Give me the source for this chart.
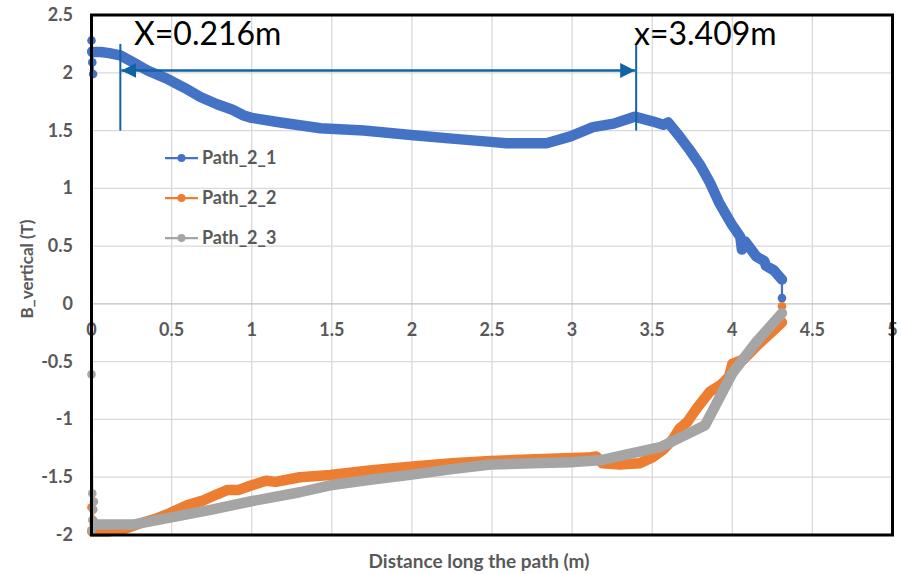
<!DOCTYPE html>
<html lang="en">
  <head>
    <meta charset="UTF-8" />
    <script src="https://d3js.org/d3.v7.min.js"></script>
    <title>B_vertical along path</title>
    <style>
      body {
        margin: 0;
        background: #fff;
      }
      .tick-label {
        font-family: Lato, sans-serif;
        font-weight: bold;
        font-size: 18px;
        fill: #595959;
      }
      .note {
        font-family: Lato, sans-serif;
        font-size: 32px;
        fill: #000;
      }
    </style>
  </head>
  <body>
    <script>
      var width = 901
      var height = 574

      // 数据
      var seriesNames = ['Path_2_1', 'Path_2_2', 'Path_2_3']
      var seriesColors = ['#4472C4', '#ED7D31', '#A5A5A5']

      var xTicks = [0, 0.5, 1, 1.5, 2, 2.5, 3, 3.5, 4, 4.5, 5]
      var yTicks = [2.5, 2, 1.5, 1, 0.5, 0, -0.5, -1, -1.5, -2]

      // Path_2_1
      var path21Head = [[0.0, 2.28], [0.0, 2.19], [0.005, 2.09], [0.01, 1.99]]
      var path21Body = [
        [0.005, 2.18], [0.06, 2.18], [0.11, 2.17], [0.18, 2.15], [0.26, 2.09],
        [0.35, 2.02], [0.47, 1.95], [0.58, 1.87], [0.68, 1.79], [0.78, 1.73],
        [0.88, 1.68], [0.95, 1.63], [1.0, 1.61], [1.18, 1.57], [1.43, 1.52],
        [1.7, 1.5], [2.01, 1.46], [2.25, 1.43], [2.51, 1.4], [2.59, 1.39],
        [2.84, 1.39], [2.99, 1.45], [3.13, 1.53], [3.26, 1.56], [3.39, 1.62],
        [3.5, 1.58], [3.57, 1.55], [3.6, 1.57], [3.67, 1.45], [3.73, 1.34],
        [3.8, 1.2], [3.86, 1.05], [3.92, 0.87], [4.0, 0.68], [4.05, 0.58],
        [4.06, 0.47], [4.08, 0.54], [4.15, 0.41], [4.2, 0.37], [4.21, 0.33],
        [4.26, 0.29], [4.31, 0.21]
      ]
      var path21Tail = [[4.31, 0.05]]

      // Path_2_2
      var path22Head = [[0.0, -1.76], [0.01, -1.78], [0.01, -1.87], [0.0, -1.96]]
      var path22Body = [
        [0.005, -1.97], [0.1, -1.97], [0.2, -1.95], [0.3, -1.9], [0.4, -1.86],
        [0.49, -1.81], [0.6, -1.74], [0.7, -1.7], [0.78, -1.65], [0.85, -1.61],
        [0.92, -1.61], [1.0, -1.57], [1.09, -1.53], [1.15, -1.54], [1.3, -1.5],
        [1.49, -1.48], [1.75, -1.44], [1.99, -1.41], [2.25, -1.38], [2.49, -1.36],
        [2.86, -1.34], [3.1, -1.33], [3.15, -1.32], [3.19, -1.38], [3.3, -1.39],
        [3.42, -1.38], [3.5, -1.33], [3.57, -1.26], [3.63, -1.17], [3.67, -1.08],
        [3.72, -1.02], [3.74, -0.98], [3.78, -0.9], [3.82, -0.83], [3.86, -0.76],
        [3.93, -0.7], [3.98, -0.63], [4.0, -0.52], [4.07, -0.48], [4.17, -0.34],
        [4.24, -0.25], [4.31, -0.16]
      ]
      var path22Tail = [[4.31, -0.02]]

      // Path_2_3
      var path23Head = [
        [0.0, -0.61], [0.005, -1.64], [0.015, -1.71], [0.01, -1.78],
        [0.005, -1.87], [0.0, -1.96]
      ]
      var path23Body = [
        [0.02, -1.91], [0.1, -1.91], [0.26, -1.91], [0.49, -1.85], [0.75, -1.78],
        [0.99, -1.71], [1.3, -1.63], [1.49, -1.57], [1.75, -1.52], [1.99, -1.48],
        [2.25, -1.43], [2.49, -1.39], [2.75, -1.38], [2.99, -1.37], [3.19, -1.35],
        [3.35, -1.3], [3.55, -1.24], [3.7, -1.14], [3.83, -1.05], [4.0, -0.6],
        [4.15, -0.33], [4.31, -0.08]
      ]
      var path23Tail = []

      // annotation: the two marked positions
      var markX = [0.18, 3.4]
      var markLabels = ['X=0.216m', 'x=3.409m']
      var markTop = 2.25
      var markBottom = 1.5
      var arrowY = 2.02

      var series = [
        { head: path21Head, body: path21Body, tail: path21Tail },
        { head: path22Head, body: path22Body, tail: path22Tail },
        { head: path23Head, body: path23Body, tail: path23Tail }
      ]

      var margin = { left: 91.5, top: 15, right: 8.5, bottom: 39 }

      var svg = d3
        .select('body')
        .append('svg')
        .attr('width', width)
        .attr('height', height)

      var xScale = d3
        .scaleLinear()
        .domain([0, 5])
        .range([margin.left, width - margin.right])

      var yScale = d3
        .scaleLinear()
        .domain([-2, 2.5])
        .range([height - margin.bottom, margin.top])

      // 网格线
      svg
        .append('g')
        .selectAll('line')
        .data(xTicks)
        .enter()
        .append('line')
        .attr('x1', d => xScale(d))
        .attr('x2', d => xScale(d))
        .attr('y1', yScale(2.5))
        .attr('y2', yScale(-2))
        .attr('stroke', '#d9d9d9')
        .attr('stroke-width', 1.3)

      svg
        .append('g')
        .selectAll('line')
        .data(yTicks)
        .enter()
        .append('line')
        .attr('x1', xScale(0))
        .attr('x2', xScale(5))
        .attr('y1', d => yScale(d))
        .attr('y2', d => yScale(d))
        .attr('stroke', d => (d === 0 ? '#bfbfbf' : '#d9d9d9'))
        .attr('stroke-width', 1.3)

      // y tick labels
      svg
        .append('g')
        .selectAll('text')
        .data(yTicks)
        .enter()
        .append('text')
        .attr('class', 'tick-label')
        .attr('x', 73)
        .attr('y', d => yScale(d) + 6)
        .attr('text-anchor', 'end')
        .text(d => d)

      // x tick labels sit under the zero line
      svg
        .append('g')
        .selectAll('text')
        .data(xTicks)
        .enter()
        .append('text')
        .attr('class', 'tick-label')
        .attr('x', d => xScale(d))
        .attr('y', yScale(0) + 32)
        .attr('text-anchor', 'middle')
        .text(d => d)

      var line = d3
        .line()
        .x(d => xScale(d[0]))
        .y(d => yScale(d[1]))

      // 曲线: thin connector + dense marker band + loose markers
      series.forEach(function (s, i) {
        var col = seriesColors[i]
        var all = s.head.concat(s.body, s.tail)
        var g = svg.append('g')

        g.append('path')
          .attr('d', line(all))
          .attr('fill', 'none')
          .attr('stroke', col)
          .attr('stroke-width', 2.25)

        g.append('path')
          .attr('d', line(s.body))
          .attr('fill', 'none')
          .attr('stroke', col)
          .attr('stroke-width', 10.5)
          .attr('stroke-linejoin', 'round')
          .attr('stroke-linecap', 'round')

        g.selectAll('circle')
          .data(s.head.concat(s.tail))
          .enter()
          .append('circle')
          .attr('cx', d => xScale(d[0]))
          .attr('cy', d => yScale(d[1]))
          .attr('r', 4.3)
          .attr('fill', col)
      })

      // 边框
      svg
        .append('rect')
        .attr('x', xScale(0))
        .attr('y', yScale(2.5))
        .attr('width', xScale(5) - xScale(0))
        .attr('height', yScale(-2) - yScale(2.5))
        .attr('fill', 'none')
        .attr('stroke', '#000')
        .attr('stroke-width', 3)

      // 图例
      var legend = svg
        .append('g')
        .selectAll('g')
        .data(seriesNames)
        .enter()
        .append('g')
        .attr('transform', (d, i) => 'translate(165,' + (158 + i * 40) + ')')

      legend
        .append('line')
        .attr('x1', 0)
        .attr('x2', 33)
        .attr('stroke', (d, i) => seriesColors[i])
        .attr('stroke-width', 2.25)

      legend
        .append('circle')
        .attr('cx', 16.5)
        .attr('r', 4)
        .attr('fill', (d, i) => seriesColors[i])

      legend
        .append('text')
        .attr('x', 37)
        .attr('y', 6)
        .attr('font-family', 'Lato, sans-serif')
        .attr('font-weight', 'bold')
        .attr('font-size', 18)
        .attr('fill', '#595959')
        .text(d => d)

      // 标注
      var noteCol = '#0F63A6'
      svg
        .append('defs')
        .append('marker')
        .attr('id', 'tri')
        .attr('viewBox', '0 0 10 10')
        .attr('refX', 10)
        .attr('refY', 5)
        .attr('markerWidth', 15)
        .attr('markerHeight', 15)
        .attr('markerUnits', 'userSpaceOnUse')
        .attr('orient', 'auto-start-reverse')
        .append('path')
        .attr('d', 'M0,0L10,5L0,10Z')
        .attr('fill', noteCol)

      svg
        .append('g')
        .selectAll('line')
        .data(markX)
        .enter()
        .append('line')
        .attr('x1', d => xScale(d))
        .attr('x2', d => xScale(d))
        .attr('y1', yScale(markTop))
        .attr('y2', yScale(markBottom))
        .attr('stroke', noteCol)
        .attr('stroke-width', 2)

      svg
        .append('line')
        .attr('x1', xScale(markX[0]) + 1)
        .attr('x2', xScale(markX[1]) - 1)
        .attr('y1', yScale(arrowY))
        .attr('y2', yScale(arrowY))
        .attr('stroke', noteCol)
        .attr('stroke-width', 2.5)
        .attr('marker-start', 'url(#tri)')
        .attr('marker-end', 'url(#tri)')

      svg
        .append('g')
        .selectAll('text')
        .data(markLabels)
        .enter()
        .append('text')
        .attr('class', 'note')
        .attr('x', (d, i) => (i === 0 ? 134 : 634))
        .attr('y', 45)
        .text(d => d)

      // 坐标轴标题
      svg
        .append('text')
        .attr('x', 479)
        .attr('y', 568)
        .attr('text-anchor', 'middle')
        .attr('font-family', 'Lato, sans-serif')
        .attr('font-weight', 'bold')
        .attr('font-size', 19)
        .attr('fill', '#595959')
        .text('Distance long the path (m)')

      svg
        .append('text')
        .attr('transform', 'translate(33,269) rotate(-90)')
        .attr('text-anchor', 'middle')
        .attr('font-family', 'Lato, sans-serif')
        .attr('font-weight', 'bold')
        .attr('font-size', 17)
        .attr('fill', '#595959')
        .text('B_vertical (T)')
    </script>
  </body>
</html>
